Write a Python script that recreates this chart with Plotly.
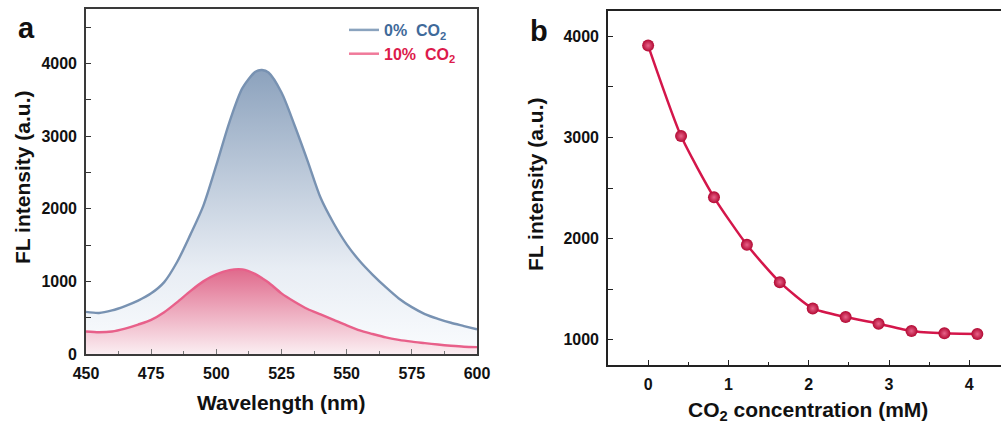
import plotly.graph_objects as go

# ---------------- data ----------------
# (a) emission spectra
wavelength = [450, 455, 460, 465, 470, 475, 480, 485, 490, 495, 500, 505, 510,
              515, 517.5, 520, 525, 530, 535, 540, 545, 550, 555, 560, 565, 570,
              575, 580, 585, 590, 595, 600]
fl_0pct = [580, 565, 600, 660, 735, 835, 990, 1270, 1640, 2040, 2600, 3190, 3660,
           3885, 3910, 3875, 3600, 3150, 2660, 2150, 1800, 1510, 1280, 1090, 920, 765,
           645, 550, 485, 430, 385, 340]
fl_10pct = [310, 300, 310, 350, 405, 470, 575, 715, 865, 1000, 1095, 1155, 1165,
            1100, 1045, 985, 835, 720, 620, 545, 470, 395, 325, 275, 228, 195,
            170, 150, 130, 113, 100, 95]

# (b) intensity vs CO2 concentration
co2_mM = [0, 0.41, 0.82, 1.23, 1.64, 2.05, 2.46, 2.87, 3.28, 3.69, 4.1]
fl_peak = [3908, 3013, 2408, 1938, 1569, 1309, 1224, 1158, 1086, 1063, 1056]

# ---------------- layout helpers ----------------
W, H = 1001, 427
FONT = "Arial, Liberation Sans, sans-serif"


def px_x(x):
    return x / W


def px_y(y):
    return 1 - y / H


BLUE_LINE = "#7892B2"
RED_LINE = "#E8608A"
BLUE_TEXT = "#3F6A9A"
RED_TEXT = "#DC1A4B"
CRIMSON = "#D4164A"

fig = go.Figure()

# spectrum without CO2 (gradient filled)
fig.add_trace(go.Scatter(
    x=wavelength, y=fl_0pct, mode="lines", xaxis="x", yaxis="y",
    line=dict(color=BLUE_LINE, width=2.4, shape="spline", smoothing=0.8),
    fill="tozeroy",
    fillgradient=dict(type="vertical", start=0, stop=max(fl_0pct),
                      colorscale=[[0, "rgb(250,252,254)"], [0.3, "rgb(232,237,244)"],
                                  [1, "rgb(140,162,189)"]]),
    showlegend=False, hoverinfo="skip",
))
# spectrum with 10% CO2
fig.add_trace(go.Scatter(
    x=wavelength, y=fl_10pct, mode="lines", xaxis="x", yaxis="y",
    line=dict(color=RED_LINE, width=2.4, shape="spline", smoothing=0.8),
    fill="tozeroy",
    fillgradient=dict(type="vertical", start=0, stop=max(fl_10pct),
                      colorscale=[[0, "rgb(251,238,242)"], [1, "rgb(224,106,140)"]]),
    showlegend=False, hoverinfo="skip",
))
# legend entries
fig.add_trace(go.Scatter(
    x=[None], y=[None], mode="lines", xaxis="x", yaxis="y",
    line=dict(color="#8AA3BE", width=2.5),
    name=f"<span style='color:{BLUE_TEXT}'>0%  CO<sub>2</sub></span>",
))
fig.add_trace(go.Scatter(
    x=[None], y=[None], mode="lines", xaxis="x", yaxis="y",
    line=dict(color="#F07A9A", width=2.5),
    name=f"<span style='color:{RED_TEXT}'>10%  CO<sub>2</sub></span>",
))

# (b) intensity curve
fig.add_trace(go.Scatter(
    x=co2_mM, y=fl_peak, mode="lines+markers", xaxis="x2", yaxis="y2",
    line=dict(color=CRIMSON, width=2.5, shape="spline", smoothing=0.6),
    marker=dict(size=12, color="rgb(178,8,50)",
                gradient=dict(type="radial", color="rgb(232,100,138)"),
                line=dict(width=0)),
    showlegend=False, hoverinfo="skip",
))

tickfont = dict(family=FONT, size=16, color="#111111", weight="bold")
common = dict(showline=True, linewidth=1.6, ticks="inside", ticklen=5,
              tickwidth=1.3, showgrid=False, zeroline=False, tickfont=tickfont,
              ticklabelstandoff=4, automargin=False)

fig.update_layout(
    width=W, height=H,
    margin=dict(l=0, r=0, t=0, b=0),
    paper_bgcolor="white", plot_bgcolor="white",
    font=dict(family=FONT),
    xaxis=dict(domain=[px_x(86), px_x(477)], range=[450, 600], dtick=25,
               anchor="y", mirror=True, linecolor="#3a3a3a", tickcolor="#777777",
               minor=dict(ticks="inside", dtick=12.5, ticklen=3, tickcolor="#777777"),
               **common),
    yaxis=dict(domain=[px_y(354), px_y(9)], range=[0, 4750], tickvals=[0, 1000, 2000, 3000, 4000],
               anchor="x", mirror=True, linecolor="#3a3a3a", tickcolor="#333333",
               minor=dict(ticks="inside", dtick=500, ticklen=5, tickcolor="#333333"),
               **common),
    xaxis2=dict(domain=[px_x(608), 1.0], range=[-0.5, 4.395], tickvals=[0, 1, 2, 3, 4],
                anchor="y2", mirror=True, linecolor="#222222", tickcolor="#222222",
                minor=dict(ticks="inside", dtick=0.5, ticklen=3, tickcolor="#222222"),
                **common),
    yaxis2=dict(domain=[px_y(365), px_y(11)], range=[750, 4250],
                tickvals=[1000, 2000, 3000, 4000],
                anchor="x2", mirror=False, linecolor="#222222", tickcolor="#222222",
                minor=dict(ticks="inside", dtick=500, ticklen=5, tickcolor="#222222"),
                **common),
    legend=dict(x=px_x(344), y=px_y(13), xanchor="left", yanchor="top",
                bgcolor="rgba(0,0,0,0)", tracegroupgap=0,
                font=dict(family=FONT, size=16, weight="bold")),
)

title_font = dict(family=FONT, size=21, color="#111111", weight="bold")
annotations = [
    dict(text="Wavelength (nm)", x=px_x(281), y=px_y(402), font=title_font),
    dict(text="FL intensity (a.u.)", x=px_x(22), y=px_y(178), textangle=-90, font=title_font),
    dict(text="CO<sub>2</sub> concentration (mM)", x=px_x(808), y=px_y(411), font=title_font),
    dict(text="FL intensity (a.u.)", x=px_x(535), y=px_y(185), textangle=-90, font=title_font),
    dict(text="a", x=px_x(26), y=px_y(28), font=dict(family=FONT, size=29, color="#111111", weight="bold")),
    dict(text="b", x=px_x(539), y=px_y(31), font=dict(family=FONT, size=29, color="#111111", weight="bold")),
]
for a in annotations:
    fig.add_annotation(xref="paper", yref="paper", showarrow=False,
                       xanchor="center", yanchor="middle", **a)

fig.write_html("out.html")
